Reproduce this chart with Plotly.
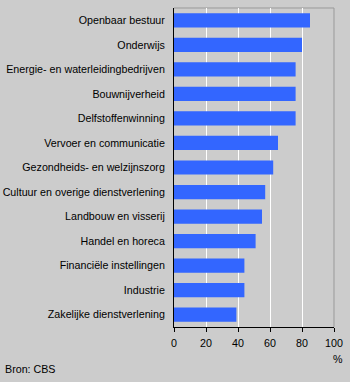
import plotly.graph_objects as go

categories = [
    "Openbaar bestuur",
    "Onderwijs",
    "Energie- en waterleidingbedrijven",
    "Bouwnijverheid",
    "Delfstoffenwinning",
    "Vervoer en communicatie",
    "Gezondheids- en welzijnszorg",
    "Cultuur en overige dienstverlening",
    "Landbouw en visserij",
    "Handel en horeca",
    "Financiële instellingen",
    "Industrie",
    "Zakelijke dienstverlening",
]
values = [85, 80, 76, 76, 76, 65, 62, 57, 55, 51, 44, 44, 39]
x_ticks = [0, 20, 40, 60, 80, 100]

fig = go.Figure(go.Bar(
    x=values, y=categories, orientation="h",
    marker=dict(color="#3366ff", line=dict(width=0)),
    hoverinfo="skip",
))

fig.update_layout(
    width=350, height=382,
    margin=dict(l=174, r=16, t=8, b=55),
    paper_bgcolor="#cccccc", plot_bgcolor="#cccccc",
    font=dict(family="Liberation Sans, Arial, sans-serif", size=10.7, color="black"),
    bargap=0.42,
    showlegend=False,
    xaxis=dict(
        range=[0, 100], tickvals=x_ticks, ticktext=[str(v) for v in x_ticks],
        showgrid=True, gridcolor="white", gridwidth=1,
        showline=True, linecolor="black", linewidth=1,
        ticks="outside", ticklen=4, tickcolor="black", ticklabelstandoff=2,
        zeroline=False, fixedrange=True, automargin=False,
    ),
    yaxis=dict(
        categoryorder="array", categoryarray=categories[::-1],
        range=[-0.5, len(categories) - 0.5],
        showline=True, linecolor="black", linewidth=1,
        showgrid=False, ticks="", ticklabelstandoff=6,
        zeroline=False, fixedrange=True, automargin=False,
    ),
    shapes=[
        dict(type="line", xref="paper", yref="paper", x0=0, x1=1, y0=1, y1=1,
             line=dict(color="#999999", width=1), layer="below"),
        dict(type="line", xref="paper", yref="paper", x0=1, x1=1, y0=0, y1=1,
             line=dict(color="#999999", width=1), layer="below"),
    ],
    annotations=[
        dict(text="%", xref="paper", yref="paper", x=1, y=0, xanchor="center",
             yanchor="middle", showarrow=False, xshift=4, yshift=-32),
        dict(text="Bron: CBS", xref="paper", yref="paper", x=-174/160, y=0,
             xanchor="left", yanchor="middle", showarrow=False, xshift=3, yshift=-42),
    ],
)

fig.write_html("out.html")
